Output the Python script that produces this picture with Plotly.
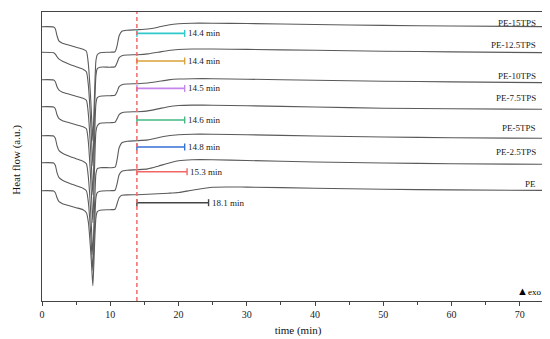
import plotly.graph_objects as go

# time grid (min)
time = [0, 1.7, 1.95, 2.2, 2.5, 3, 4, 5, 6, 6.5, 6.8, 7.1, 7.3, 7.45, 7.6, 7.75, 7.9, 8.1, 8.5, 10,
        10.7, 11.0, 11.3, 11.7, 12.5, 14, 15.5, 17, 18.5, 20, 22, 25, 30, 40, 50, 60, 75]

# heat flow (a.u., endo-positive; plotted on a reversed axis so exo is up)
pe_15tps = [19, 19.3, 21, 28, 33.5, 35.5, 37.5, 39.5, 41.5, 43.5, 57, 87, 114, 133, 107, 75, 53, 47, 45, 44.5,
            44, 38, 28, 23.5, 22.5, 22, 21.3, 19.5, 17.3, 16, 15.5, 15.5, 15.8, 16.8, 17.7, 18.3, 19]
pe_12_5tps = [44.5, 45, 46.5, 49, 51.5, 53.5, 56.5, 59, 61.5, 64, 78, 110, 138, 158, 125, 92, 68, 61, 59.5, 59.5,
              59, 55, 50, 48, 47.3, 47, 46.2, 44.6, 42.8, 41.8, 41.3, 41.3, 41.7, 42.6, 43.5, 44.2, 45]
pe_10tps = [72, 72.3, 74, 79, 82.5, 84.5, 86.5, 88.5, 90.5, 92.5, 107, 139, 167, 187, 154, 120, 96, 90, 88.5, 88,
            87.5, 84, 79, 77, 76.3, 76, 75.3, 73.8, 72.2, 71.3, 71, 71, 71.5, 72.5, 73.5, 74.2, 75]
pe_7_5tps = [99, 99.3, 101, 107, 111, 113, 115, 117, 119, 121, 135, 167, 195, 215, 182, 148, 124, 118, 115.5, 115,
             114.5, 111, 107, 105, 104.3, 104, 103.2, 101.2, 99, 97.8, 97.4, 97.5, 98, 99.3, 100.5, 101, 101.7]
pe_5tps = [128, 128.3, 130.5, 138, 143, 145.5, 148.5, 151, 153.5, 156, 170, 200, 228, 247, 218, 188, 166, 161, 160, 160,
           159.5, 152, 140, 135, 133.5, 133, 132.2, 130, 128, 127, 126.5, 126.5, 127, 128.3, 129.3, 130, 130.7]
pe_2_5tps = [155, 155.3, 157.5, 165, 170, 172.5, 175.5, 178, 180.5, 183, 195, 222, 246, 263, 238, 210, 190, 185, 183.5, 183,
             182.5, 176, 167, 163.5, 162.5, 162, 161.2, 158.5, 155.5, 153, 152, 152, 152.8, 154.3, 155.3, 156, 156.7]
pe = [183, 183.3, 185, 190, 194, 196, 198, 200, 202, 205, 215, 240, 262, 278, 255, 228, 210, 204, 202.5, 202,
      201.5, 196, 190, 187.5, 187.2, 187, 186.6, 186, 185.5, 184.8, 182.5, 179.5, 179.4, 180.5, 181.5, 182.2, 182.7]

series = [pe_15tps, pe_12_5tps, pe_10tps, pe_7_5tps, pe_5tps, pe_2_5tps, pe]
names = ["PE-15TPS", "PE-12.5TPS", "PE-10TPS", "PE-7.5TPS", "PE-5TPS", "PE-2.5TPS", "PE"]
label_y = [15, 37.3, 68.3, 90, 120.7, 144, 176]

# induction-time markers
onset_time = 13.9
seg_end = [20.9, 20.9, 20.9, 20.9, 20.9, 21.25, 24.4]
seg_y = [25.7, 53.3, 80.7, 112.3, 139.3, 164, 195]
seg_labels = ["14.4 min", "14.4 min", "14.5 min", "14.6 min", "14.8 min", "15.3 min", "18.1 min"]
seg_colors = ["#2ec9cc", "#d9a23a", "#c585ec", "#43b883", "#356fd8", "#f26666", "#444444"]

x_ticks = [0, 10, 20, 30, 40, 50, 60, 70]

FONT = "Liberation Serif"
fig = go.Figure()

for ys, nm in zip(series, names):
    fig.add_trace(go.Scatter(x=time, y=ys, mode="lines", name=nm,
                             line=dict(color="#5a5a5a", width=1.1, shape="spline", smoothing=0.6),
                             showlegend=False, hoverinfo="skip"))

for e, y, c in zip(seg_end, seg_y, seg_colors):
    fig.add_trace(go.Scatter(x=[onset_time, e], y=[y, y], mode="lines+markers",
                             line=dict(color=c, width=1.6),
                             marker=dict(symbol="line-ns", size=5, line=dict(color=c, width=1.4)),
                             showlegend=False, hoverinfo="skip"))

for e, y, t in zip(seg_end, seg_y, seg_labels):
    fig.add_annotation(x=e + 0.2, y=y, text=t, showarrow=False, xanchor="left", yanchor="middle",
                       font=dict(family=FONT, size=9, color="#222"))

for nm, y in zip(names, label_y):
    fig.add_annotation(x=72.6, y=y, text=nm, showarrow=False, xanchor="right", yanchor="middle",
                       font=dict(family=FONT, size=9, color="#222"))

fig.add_shape(type="line", x0=onset_time, x1=onset_time, y0=0, y1=1, yref="paper",
              line=dict(color="#f26b6b", width=1.5, dash="4px,3px"))

fig.add_annotation(x=69.3, y=283, text="▲<span style='font-size:9px'>exo</span>", showarrow=False,
                   xanchor="left", yanchor="middle", font=dict(family=FONT, size=11, color="#000"))

# y-axis title
fig.add_annotation(xref="paper", yref="paper", x=-0.05, y=0.49, text="Heat flow (a.u.)", textangle=-90,
                   showarrow=False, xanchor="center", yanchor="middle",
                   font=dict(family=FONT, size=11, color="#111"))

fig.update_layout(
    width=550, height=339,
    margin=dict(l=34, r=4, t=4, b=46),
    paper_bgcolor="white", plot_bgcolor="white",
    font=dict(family=FONT, color="#111"),
)
fig.update_xaxes(range=[0, 75], tickvals=x_ticks, ticks="outside", ticklen=4, tickcolor="#444",
                 minor=dict(dtick=5, ticks="outside", ticklen=2.5, tickcolor="#444"),
                 showline=True, linecolor="#444", linewidth=1, mirror=True, showgrid=False, zeroline=False,
                 automargin=False,
                 tickfont=dict(family=FONT, size=10, color="#222"),
                 title=dict(text="time (min)", font=dict(family=FONT, size=11, color="#111"), standoff=7))
fig.update_yaxes(range=[293.3, 4.3], showticklabels=False, ticks="", showline=True, linecolor="#444",
                 linewidth=1, mirror=True, showgrid=False, zeroline=False, automargin=False)

fig.write_html("out.html")
